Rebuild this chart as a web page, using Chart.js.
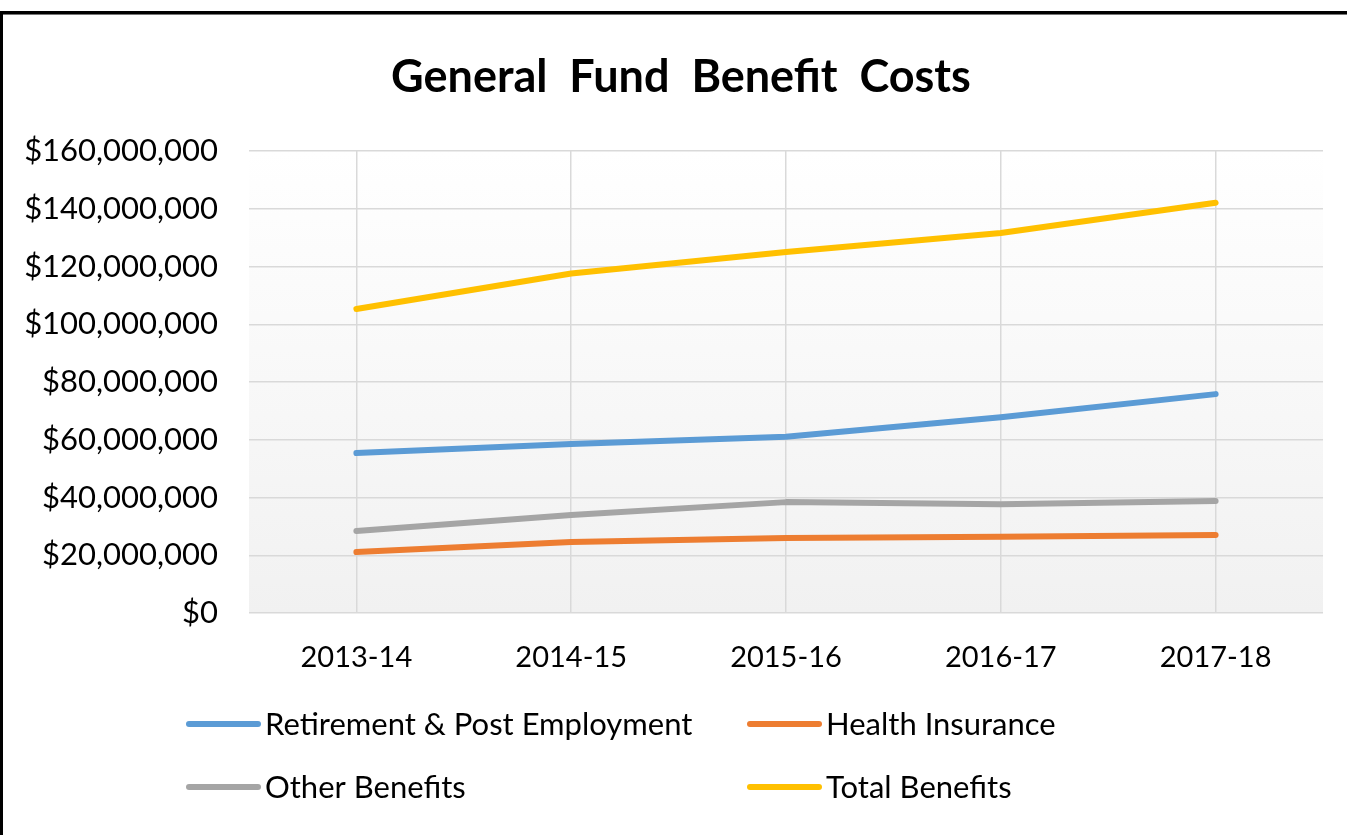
<!DOCTYPE html>
<html>
<head>
<meta charset="utf-8">
<script src="https://cdn.jsdelivr.net/npm/chart.js@4"></script>
<style>
  body { margin: 0; background: #fff; }
  canvas { display: block; }
</style>
</head>
<body>
<canvas id="graph" width="1347" height="835"></canvas>
<script>
var chartTitle = "General  Fund  Benefit  Costs";
var years = ["2013-14", "2014-15", "2015-16", "2016-17", "2017-18"];
var retirement = [55400000, 58500000, 61000000, 67800000, 75800000];
var health = [21100000, 24600000, 26000000, 26400000, 27000000];
var other = [28400000, 33900000, 38400000, 37700000, 38800000];
var total = [105300000, 117600000, 125000000, 131600000, 142100000];
var yTicks = [0, 20000000, 40000000, 60000000, 80000000, 100000000, 120000000, 140000000, 160000000];

var canvas = document.getElementById("graph");
var chart;

function money(v) {
  return "$" + Math.round(v).toLocaleString("en-US");
}

// white page, plot area shading, title and the black frame
var frame = {
  id: "frame",
  beforeDraw: function (c) {
    var ctx = c.ctx, a = c.chartArea;
    ctx.save();
    ctx.fillStyle = "#fff";
    ctx.fillRect(0, 0, c.width, c.height);
    var g = ctx.createLinearGradient(0, a.top, 0, a.bottom);
    g.addColorStop(0, "#ffffff");
    g.addColorStop(1, "#f1f1f1");
    ctx.fillStyle = g;
    ctx.fillRect(a.left, a.top, a.right - a.left, a.bottom - a.top);
    ctx.restore();
  },
  afterDraw: function (c) {
    var ctx = c.ctx;
    ctx.save();
    ctx.fillStyle = "#000";
    ctx.font = "bold 45px Lato";
    ctx.textAlign = "center";
    ctx.textBaseline = "middle";
    ctx.fillText(chartTitle, 681, 77);
    ctx.fillRect(0, 11, c.width, 3);
    ctx.fillRect(0, 11, 3, c.height);
    ctx.fillStyle = "#777";
    ctx.fillRect(3, 14, c.width, 1);
    ctx.restore();
  }
};

// two column legend under the axis
var legendGrid = {
  id: "legendGrid",
  afterDraw: function (c) {
    var ctx = c.ctx;
    var cols = [187, 748];
    var rows = [724, 787];
    ctx.save();
    ctx.font = "31px Lato";
    ctx.textBaseline = "middle";
    ctx.lineCap = "round";
    ctx.lineWidth = 6;
    c.data.datasets.forEach(function (ds, i) {
      var x = cols[i % 2], y = rows[Math.floor(i / 2)];
      ctx.strokeStyle = ds.borderColor;
      ctx.beginPath();
      ctx.moveTo(x + 2, y);
      ctx.lineTo(x + 71, y);
      ctx.stroke();
      ctx.fillStyle = "#000";
      ctx.fillText(ds.label, x + 78, y + 1);
    });
    ctx.restore();
  }
};

chart = new Chart(canvas, {
  type: "line",
  data: {
    labels: years,
    datasets: [
      { label: "Retirement & Post Employment", data: retirement, borderColor: "#5b9bd5" },
      { label: "Health Insurance", data: health, borderColor: "#ed7d31" },
      { label: "Other Benefits", data: other, borderColor: "#a5a5a5" },
      { label: "Total Benefits", data: total, borderColor: "#ffc000" }
    ]
  },
  options: {
    responsive: false,
    animation: false,
    layout: { padding: { left: 0, right: 24, top: 151, bottom: 122 } },
    elements: {
      line: { borderWidth: 6, tension: 0, borderCapStyle: "round", borderJoinStyle: "round", fill: false },
      point: { radius: 0, hoverRadius: 0 }
    },
    plugins: {
      legend: { display: false },
      tooltip: { enabled: false },
      title: { display: false }
    },
    scales: {
      x: {
        offset: true,
        grid: { color: "#d9d9d9", lineWidth: 1.5, offset: false, drawTicks: false },
        border: { display: false },
        ticks: { color: "#000", font: { family: "Lato", size: 29 }, padding: 27 },
        afterFit: function (s) { s.height = 100; }
      },
      y: {
        min: 0,
        max: 160000000,
        afterBuildTicks: function (s) { s.ticks = yTicks.map(function (v) { return { value: v }; }); },
        grid: { color: "#d9d9d9", lineWidth: 1.5, drawTicks: false },
        border: { display: false },
        ticks: { color: "#000", font: { family: "Lato", size: 31 }, padding: 31, callback: money },
        afterFit: function (s) { s.width = 249; }
      }
    }
  },
  plugins: [frame, legendGrid]
});
</script>
</body>
</html>
